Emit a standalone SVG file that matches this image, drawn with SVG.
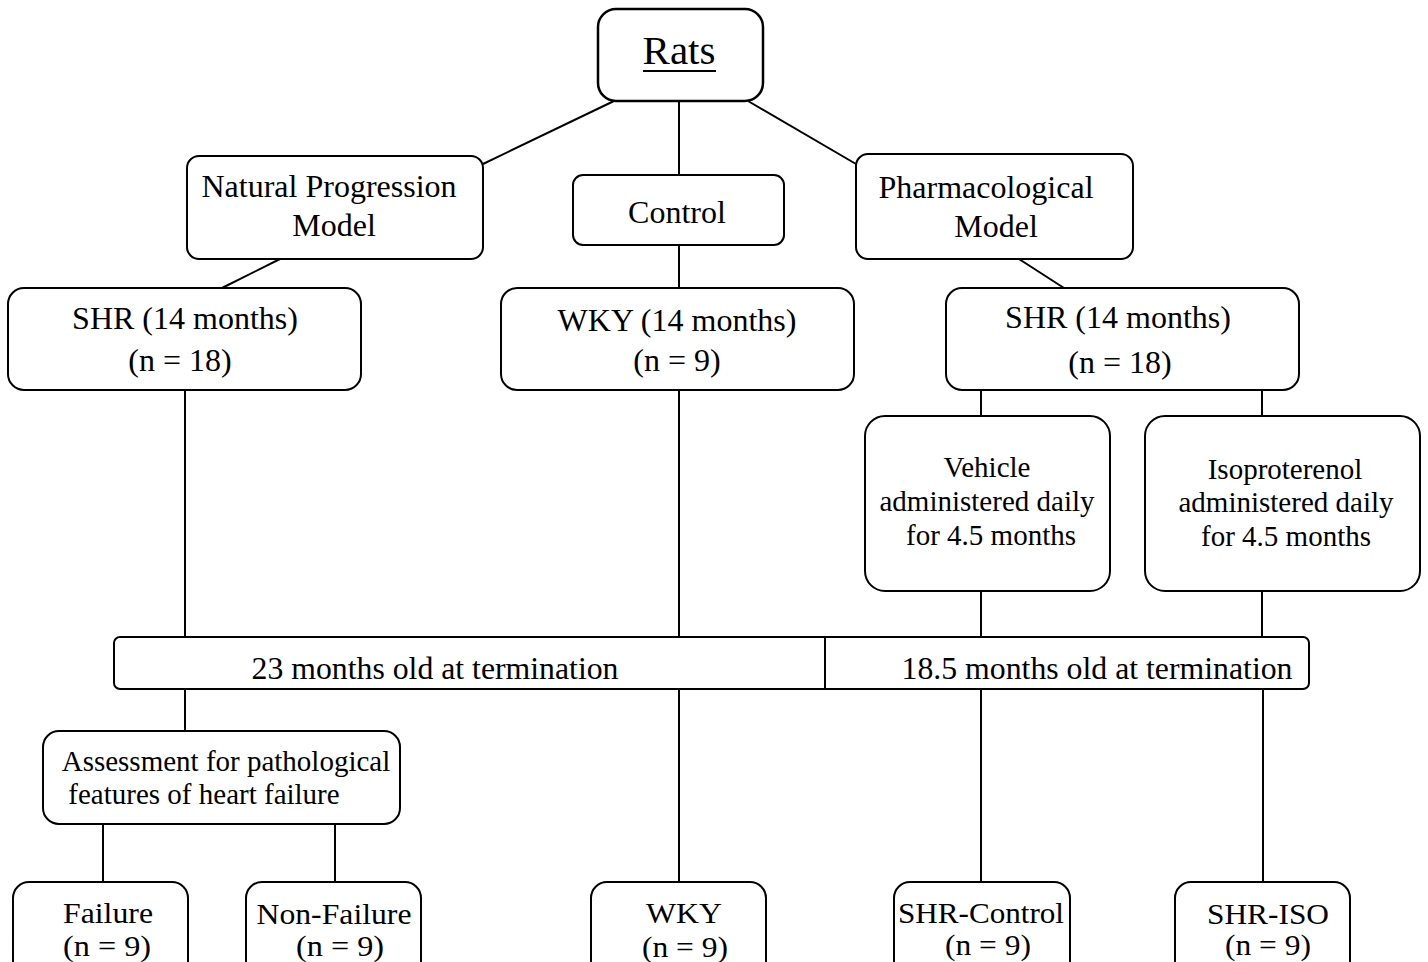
<svg xmlns="http://www.w3.org/2000/svg" width="1428" height="962" viewBox="0 0 1428 962">
<style>
.b{fill:#fff;stroke:#000;stroke-width:2}
.c{stroke:#000;stroke-width:2;fill:none}
text{font-family:"Liberation Serif","Times New Roman",serif;fill:#000;text-anchor:middle}
.f29{font-size:32px}
.f27{font-size:29px}
.fb{font-size:29px}
</style>
<rect width="1428" height="962" fill="#fff"/>
<g id="connectors">
<line class="c" x1="614" y1="101" x2="483" y2="164"/>
<line class="c" x1="679" y1="101" x2="679" y2="175"/>
<line class="c" x1="748" y1="101" x2="856" y2="164"/>
<line class="c" x1="280" y1="259" x2="222" y2="288"/>
<line class="c" x1="679" y1="245" x2="679" y2="288"/>
<line class="c" x1="1019" y1="259" x2="1064" y2="288"/>
<line class="c" x1="185" y1="390" x2="185" y2="637"/>
<line class="c" x1="679" y1="390" x2="679" y2="637"/>
<line class="c" x1="981" y1="390" x2="981" y2="416"/>
<line class="c" x1="1262" y1="390" x2="1262" y2="416"/>
<line class="c" x1="981" y1="591" x2="981" y2="637"/>
<line class="c" x1="1262" y1="591" x2="1262" y2="637"/>
<line class="c" x1="185" y1="689" x2="185" y2="731"/>
<line class="c" x1="679" y1="689" x2="679" y2="882"/>
<line class="c" x1="981" y1="689" x2="981" y2="882"/>
<line class="c" x1="1263" y1="689" x2="1263" y2="882"/>
<line class="c" x1="103" y1="824" x2="103" y2="882"/>
<line class="c" x1="335" y1="824" x2="335" y2="882"/>
</g>
<g id="rats">
<rect class="b" x="598" y="9" width="165" height="92" rx="18" style="stroke-width:2.5"/>
<text x="679" y="64" style="font-size:41px">Rats</text>
<line x1="643" y1="71" x2="716" y2="71" stroke="#000" stroke-width="2"/>
</g>
<g id="natural">
<rect class="b" x="187" y="156" width="296" height="103" rx="12"/>
<text class="f29" x="329" y="197">Natural Progression</text>
<text class="f29" x="334" y="236">Model</text>
</g>
<g id="control">
<rect class="b" x="573" y="175" width="211" height="70" rx="10"/>
<text class="f29" x="677" y="223">Control</text>
</g>
<g id="pharm">
<rect class="b" x="856" y="154" width="277" height="105" rx="12"/>
<text class="f29" x="986" y="198">Pharmacological</text>
<text class="f29" x="996" y="237">Model</text>
</g>
<g id="shr-left">
<rect class="b" x="8" y="288" width="353" height="102" rx="16"/>
<text class="f29" x="185" y="329">SHR (14 months)</text>
<text class="f29" x="180" y="371">(n = 18)</text>
</g>
<g id="wky-top">
<rect class="b" x="501" y="288" width="353" height="102" rx="16"/>
<text class="f29" x="677" y="331">WKY (14 months)</text>
<text class="f29" x="677" y="371">(n = 9)</text>
</g>
<g id="shr-right">
<rect class="b" x="946" y="288" width="353" height="102" rx="16"/>
<text class="f29" x="1118" y="328">SHR (14 months)</text>
<text class="f29" x="1120" y="373">(n = 18)</text>
</g>
<g id="vehicle">
<rect class="b" x="865" y="416" width="245" height="175" rx="20"/>
<text class="f27" x="987" y="477">Vehicle</text>
<text class="f27" x="987" y="511">administered daily</text>
<text class="f27" x="991" y="545">for 4.5 months</text>
</g>
<g id="iso">
<rect class="b" x="1145" y="416" width="275" height="175" rx="20"/>
<text class="f27" x="1285" y="479">Isoproterenol</text>
<text class="f27" x="1286" y="512">administered daily</text>
<text class="f27" x="1286" y="546">for 4.5 months</text>
</g>
<g id="termination">
<rect class="b" x="114" y="637" width="1195" height="52" rx="6"/>
<line class="c" x1="825" y1="637" x2="825" y2="689"/>
<text class="f29" x="435" y="679" textLength="367" lengthAdjust="spacingAndGlyphs">23 months old at termination</text>
<text class="f29" x="1097" y="679" textLength="391" lengthAdjust="spacingAndGlyphs">18.5 months old at termination</text>
</g>
<g id="assessment">
<rect class="b" x="43" y="731" width="357" height="93" rx="16"/>
<text class="f27" x="226" y="771">Assessment for pathological</text>
<text class="f27" x="204" y="804">features of heart failure</text>
</g>
<g id="failure">
<rect class="b" x="13" y="882" width="175" height="95" rx="16"/>
<text class="fb" x="108" y="923" textLength="90" lengthAdjust="spacingAndGlyphs">Failure</text>
<text class="fb" x="107" y="956" textLength="88" lengthAdjust="spacingAndGlyphs">(n = 9)</text>
</g>
<g id="nonfailure">
<rect class="b" x="246" y="882" width="175" height="95" rx="16"/>
<text class="fb" x="334" y="924" textLength="155" lengthAdjust="spacingAndGlyphs">Non-Failure</text>
<text class="fb" x="340" y="956" textLength="88" lengthAdjust="spacingAndGlyphs">(n = 9)</text>
</g>
<g id="wky-bottom">
<rect class="b" x="591" y="882" width="175" height="95" rx="16"/>
<text class="fb" x="684" y="923" textLength="76" lengthAdjust="spacingAndGlyphs">WKY</text>
<text class="fb" x="685" y="957" textLength="86" lengthAdjust="spacingAndGlyphs">(n = 9)</text>
</g>
<g id="shr-control">
<rect class="b" x="894" y="882" width="176" height="95" rx="16"/>
<text class="fb" x="981" y="923" textLength="166" lengthAdjust="spacingAndGlyphs">SHR-Control</text>
<text class="fb" x="988" y="955" textLength="86" lengthAdjust="spacingAndGlyphs">(n = 9)</text>
</g>
<g id="shr-iso">
<rect class="b" x="1175" y="882" width="175" height="95" rx="16"/>
<text class="fb" x="1268" y="924" textLength="122" lengthAdjust="spacingAndGlyphs">SHR-ISO</text>
<text class="fb" x="1268" y="955" textLength="86" lengthAdjust="spacingAndGlyphs">(n = 9)</text>
</g>
</svg>
